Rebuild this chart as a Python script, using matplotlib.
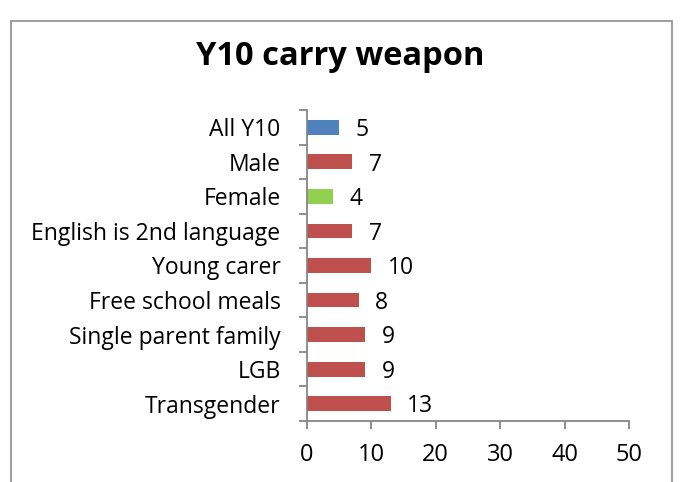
import matplotlib.pyplot as plt
from matplotlib.patches import Rectangle

# Données
categories = ['All Y10', 'Male', 'Female', 'English is 2nd language', 'Young carer',
              'Free school meals', 'Single parent family', 'LGB', 'Transgender']
values = [5, 7, 4, 7, 10, 8, 9, 9, 13]
colors = ['#4F81BD', '#C0504D', '#92D050', '#C0504D', '#C0504D',
          '#C0504D', '#C0504D', '#C0504D', '#C0504D']
x_ticks = [0, 10, 20, 30, 40, 50]

plt.rcParams['font.family'] = ['Open Sans', 'DejaVu Sans']

fig = plt.figure(figsize=(6.81, 4.82), dpi=100)

# Cadre gris autour du graphique
fig.patches.append(Rectangle((11 / 681, -0.05), 661 / 681, 1.05 - 21 / 482,
                             transform=fig.transFigure, fill=False,
                             edgecolor='#8C8C8C', linewidth=1.2))

ax = fig.add_axes([0.4508, 0.1266, 0.4728, 0.6452])
pos = range(len(categories))
ax.barh(pos, values, height=0.43, color=colors)
ax.set_ylim(len(categories) - 0.5, -0.5)
ax.set_xlim(0, 50)

for i, v in enumerate(values):
    ax.annotate(str(v), (v, i), xytext=(12, -2), textcoords='offset points',
                va='center', ha='left', fontsize=16.5)

ax.set_yticks([p - 0.5 for p in range(len(categories) + 1)], minor=False)
ax.set_yticklabels([])
ax.set_yticks(list(pos), minor=True)
ax.set_yticklabels(categories, minor=True, fontsize=16.5)
ax.tick_params(axis='y', which='minor', length=0, pad=19)
ax.tick_params(axis='y', which='major', length=6, color='#868686', width=1.3)

ax.set_xticks(x_ticks)
ax.tick_params(axis='x', length=6, color='#868686', width=1.3, labelsize=17, pad=10)

for s in ['top', 'right']:
    ax.spines[s].set_visible(False)
for s in ['left', 'bottom']:
    ax.spines[s].set_color('#868686')
    ax.spines[s].set_linewidth(1.3)

fig.text(0.5, 0.882, 'Y10 carry weapon', ha='center', va='center',
         fontsize=23.5, fontweight='bold')

plt.savefig('out.png', dpi=100)
